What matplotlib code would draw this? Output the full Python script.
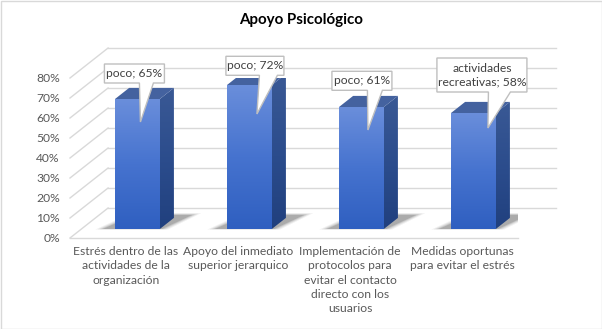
import numpy as np
import matplotlib
matplotlib.use("Agg")
import matplotlib.pyplot as plt
import matplotlib.transforms as mtransforms
from matplotlib.patches import Polygon, Rectangle
from matplotlib.colors import LinearSegmentedColormap

plt.rcParams['font.family'] = ['Lato', 'DejaVu Sans']

# ---- data ----
title = "Apoyo Psicológico"
categories = ["Estrés dentro de las\nactividades de la\norganización",
              "Apoyo del inmediato\nsuperior jerarquico",
              "Implementación de\nprotocolos para\nevitar el contacto\ndirecto con los\nusuarios",
              "Medidas oportunas\npara evitar el estrés"]
values = [0.65, 0.72, 0.61, 0.58]
label_names = ["poco", "poco", "poco", "actividades\nrecreativas"]
yticks = [0.0, 0.1, 0.2, 0.3, 0.4, 0.5, 0.6, 0.7, 0.8]
ytick_labels = ["0%", "10%", "20%", "30%", "40%", "50%", "60%", "70%", "80%"]

# ---- layout / style ----
W, H = 602, 329
fig = plt.figure(figsize=(W / 100, H / 100), dpi=100)
fig.patch.set_facecolor("white")
fig.add_artist(Rectangle((0.5 / W, 0.5 / H), 1 - 1.0 / W, 1 - 1.0 / H, transform=fig.transFigure,
                         fill=False, ec="#d9d9d9", lw=1))

ax = fig.add_axes([70 / W, (H - 238) / H, 448 / W, 160 / H])
ax.set_axis_off()

DX, DY = 0.34, 0.15   # oblique depth offset (data units) for full floor depth
d0, d1 = 0.30, 0.67   # bar depth range
bw = 0.40

def P(x, y, d):
    return (x + d * DX, y + d * DY)

grid_c = "#d9d9d9"
n = len(categories)
xl, xr = -0.5, n - 0.5
for v in yticks:
    a = P(xl, v, 1); b = P(xr, v, 1); c = P(xl, v, 0)
    ax.plot([a[0], b[0]], [a[1], b[1]], color=grid_c, lw=1, zorder=1, clip_on=False)
    ax.plot([c[0], a[0]], [c[1], a[1]], color=grid_c, lw=1, zorder=1, clip_on=False)
f0 = P(xl, 0, 0); f1 = P(xr, 0, 0)
ax.plot([f0[0], f1[0]], [f0[1], f1[1]], color=grid_c, lw=1, zorder=1, clip_on=False)

# tick labels
for v, t in zip(yticks, ytick_labels):
    ax.text(-0.5 - 0.09, v, t, ha="right", va="center", fontsize=8.7, color="#595959")

# category labels
for i, c in enumerate(categories):
    ax.text(i, -0.042, c, ha="center", va="top", fontsize=8.7, color="#595959", linespacing=1.34)

fig.text(0.5, 1 - 20 / H, title, ha="center", va="center", fontsize=10.9,
         fontweight="bold", color="#000000")

front_cmap = LinearSegmentedColormap.from_list("f", ["#2f5fc0", "#4673cf", "#6a8edb"])
side_cmap = LinearSegmentedColormap.from_list("s", ["#1f3e7c", "#2b4c8c", "#3a5995"])
grad = np.linspace(0, 1, 256).reshape(-1, 1)

for i, v in enumerate(values):
    x0, x1 = i - bw / 2, i + bw / 2
    # shadow
    for k, (ex, a) in enumerate([(0.06, 0.06), (0.04, 0.09), (0.02, 0.12), (0.0, 0.16)]):
        pts = [P(x0 - 0.11 - ex, 0, d0 - ex * 0.3), P(x1 + 0.02 + ex, 0, d0 - ex * 0.3),
               P(x1 + 0.13 + ex, 0, d1 + 0.1 + ex), P(x0 + 0.02 - ex, 0, d1 + 0.1 + ex)]
        ax.add_patch(Polygon(pts, closed=True, fc="#202020", ec="none", alpha=a, zorder=2))
    # front face
    fa = P(x0, 0, d0); fb = P(x1, v, d0)
    ax.imshow(grad, cmap=front_cmap, extent=[fa[0], fb[0], fa[1], fb[1]], origin="lower",
              aspect="auto", zorder=4, interpolation="bilinear")
    # side face
    side = [P(x1, 0, d0), P(x1, 0, d1), P(x1, v, d1), P(x1, v, d0)]
    sp = Polygon(side, closed=True, fc="none", ec="none")
    ax.add_patch(sp)
    s0 = P(x1, 0, d0); s1 = P(x1, v, d1)
    im = ax.imshow(grad, cmap=side_cmap, extent=[s0[0], s1[0], 0, s1[1]], origin="lower",
                   aspect="auto", zorder=4, interpolation="bilinear")
    im.set_clip_path(sp)
    # top face
    top = [P(x0, v, d0), P(x1, v, d0), P(x1, v, d1), P(x0, v, d1)]
    ax.add_patch(Polygon(top, closed=True, fc="#44629f", ec="none", zorder=5))

# callouts: box rect (px rel. to anchor, y down), wedge base x range, tip
callouts = [
    dict(box=(-33, 27, -35, -16), wb=(2, 16), tip=(3, 23)),
    dict(box=(-23.5, 34.5, -28.7, -9.7), wb=(10, 28), tip=(7.5, 29)),
    dict(box=(-29.5, 30.5, -35.7, -16.7), wb=(6, 21), tip=(6.5, 23)),
    dict(box=(-36.5, 53.5, -55, -21), wb=(15, 37), tip=(14.5, 15)),
]
for i, (v, nm, co) in enumerate(zip(values, label_names, callouts)):
    ax_, ay_ = P(i, v, d0)
    trans = fig.dpi_scale_trans + mtransforms.ScaledTranslation(ax_, ay_, ax.transData)
    l, r, t, b = co["box"]
    wl, wr = co["wb"]
    tx, ty = co["tip"]
    pts_px = [(l, t), (r, t), (r, b), (wr, b), (tx, ty), (wl, b), (l, b)]
    pts = [(x / 100, -y / 100) for x, y in pts_px]
    ax.add_patch(Polygon(pts, closed=True, fc="white", ec="#bfbfbf", lw=1, zorder=8,
                         transform=trans, clip_on=False))
    ax.text(((l + r) / 2) / 100, -((t + b) / 2) / 100, f"{nm}; {v * 100:.0f}%",
            transform=trans, ha="center", va="center", fontsize=8.7, color="#404040",
            zorder=9, linespacing=1.25)

ax.set_xlim(xl, xr)
ax.set_ylim(0, 0.8)

fig.savefig("out.png", dpi=100, facecolor="white")
